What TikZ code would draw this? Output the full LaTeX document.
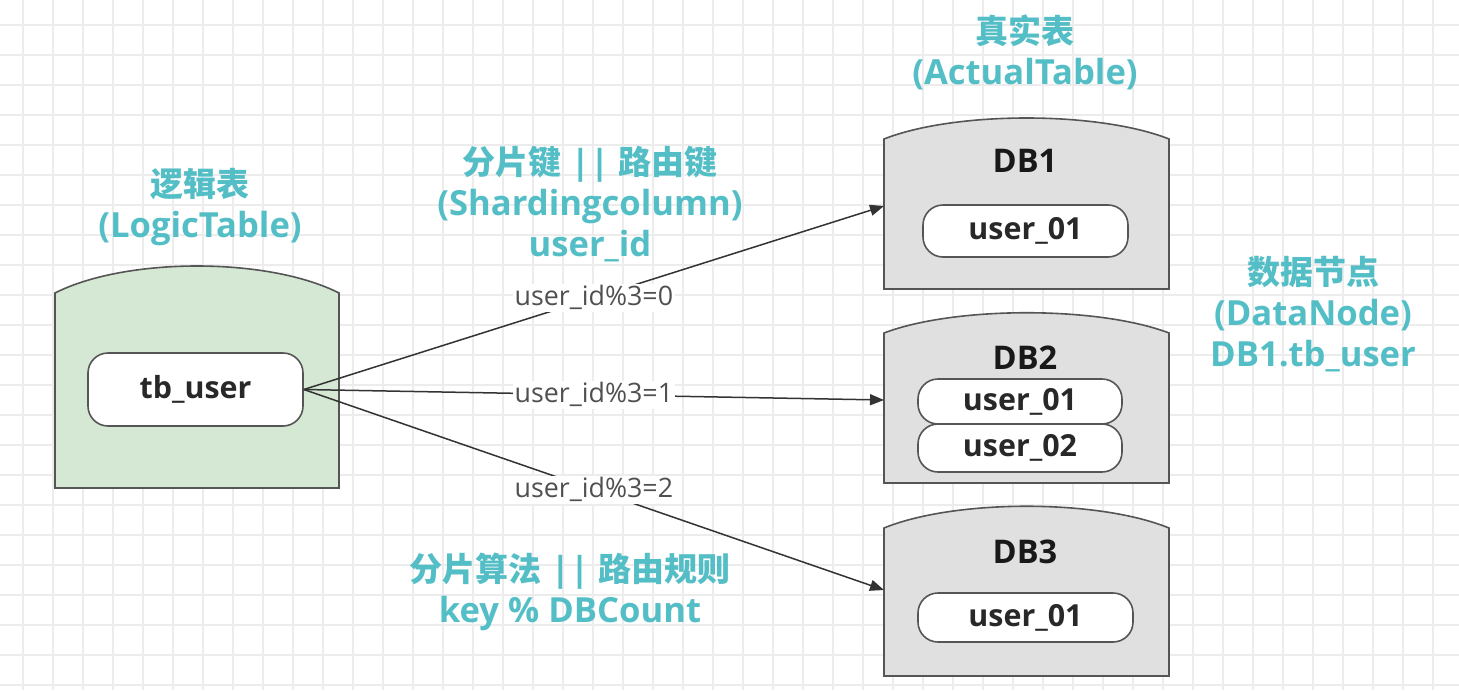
\documentclass[tikz,border=0pt]{standalone}
\usepackage{fontspec}
\setmainfont{Open Sans}
\newfontfamily\cjk{Noto Sans CJK SC}
\usetikzlibrary{arrows.meta}
\definecolor{cyanT}{RGB}{84,190,198}
\definecolor{gridc}{RGB}{236,236,236}
\definecolor{greenF}{RGB}{213,232,212}
\definecolor{grayF}{RGB}{224,224,224}
\definecolor{strokeC}{RGB}{85,85,85}
\definecolor{labelC}{RGB}{80,80,80}
\definecolor{textC}{RGB}{40,40,40}
\newcommand{\zh}[1]{{\fontsize{16.5}{20.5}\cjk\bfseries #1}}
\begin{document}
\begin{tikzpicture}[x=0.5pt,y=-0.5pt,
  title/.style={text=cyanT, font=\fontsize{17.3}{20.5}\selectfont\bfseries, align=center, inner sep=0pt},
  pill/.style={draw=strokeC, line width=0.8pt, fill=white, rounded corners=10pt, inner sep=0pt, font=\fontsize{15.2}{17}\selectfont\bfseries, text=textC},
  dblabel/.style={font=\fontsize{16.3}{18}\selectfont\bfseries, text=black!90, inner sep=0pt},
  boxshape/.style={draw=strokeC, line width=0.8pt},
  conn/.style={draw=black!80, line width=0.75pt, -{Triangle[length=7pt,width=5.5pt]}},
  elabel/.style={fill=white, inner sep=1pt, text=labelC, font=\fontsize{13.4}{15}\selectfont}
]
\useasboundingbox (0,0) rectangle (1459,690);
\fill[white] (0,0) rectangle (1459,690);
% grid
\foreach \gx in {23,53,...,1459} \draw[gridc, line width=0.6pt] (\gx,0) -- (\gx,690);
\foreach \gy in {25,55,...,690} \draw[gridc, line width=0.6pt] (0,\gy) -- (1459,\gy);

% logic table shape
\path[boxshape, fill=greenF] (55,293) .. controls (126,257) and (268,257) .. (339,293) -- (339,488) -- (55,488) -- cycle;
\node[pill, minimum width=107.5pt, minimum height=36.5pt] (tbuser) at (195.5,389.5) {tb\_user};

% DB1
\path[boxshape, fill=grayF] (884,139) .. controls (955,111) and (1098,111) .. (1169,139) -- (1169,289) -- (884,289) -- cycle;
\node[dblabel] (db1) at (1025,161) {DB1};
\node[pill, minimum width=102.5pt, minimum height=26pt] (d1u1) at (1025.5,231) {user\_01};
\coordinate (db1w) at (884,206);

% DB2
\path[boxshape, fill=grayF] (884,333) .. controls (955,306) and (1098,306) .. (1169,333) -- (1169,483) -- (884,483) -- cycle;
\node[dblabel] (db2) at (1025,358) {DB2};
\node[pill, minimum width=102pt, minimum height=22.5pt] (d2u1) at (1020,401.5) {user\_01};
\node[pill, minimum width=102pt, minimum height=24pt] (d2u2) at (1020,448) {user\_02};
\coordinate (db2w) at (884,400);

% DB3
\path[boxshape, fill=grayF] (884,528) .. controls (955,499) and (1098,499) .. (1169,528) -- (1169,676) -- (884,676) -- cycle;
\node[dblabel] (db3) at (1025,552) {DB3};
\node[pill, minimum width=107.5pt, minimum height=24.5pt] (d3u1) at (1025.5,617.5) {user\_01};
\coordinate (db3w) at (884,590);

% connectors
\draw[conn] (tbuser.east) -- node[elabel] (l0) {user\_id\%3=0} (db1w);
\draw[conn] (tbuser.east) -- node[elabel] (l1) {user\_id\%3=1} (db2w);
\draw[conn] (tbuser.east) -- node[elabel] (l2) {user\_id\%3=2} (db3w);

% titles
\node[title] (tactual) at (1025,52) {\zh{真实表}\\(ActualTable)};
\node[title] (tlogic) at (200,207.5) {\zh{逻辑表}\\(LogicTable)};
\node[title] (tkey) at (590,204) {\zh{分片键} || \zh{路由键}\\(Shardingcolumn)\\user\_id};
\node[title] (tnode) at (1313,314) {\zh{数据节点}\\(DataNode)\\DB1.tb\_user};
\node[title] (talgo) at (570,592) {\zh{分片算法} || \zh{路由规则}\\key \% DBCount};
\end{tikzpicture}
\end{document}
